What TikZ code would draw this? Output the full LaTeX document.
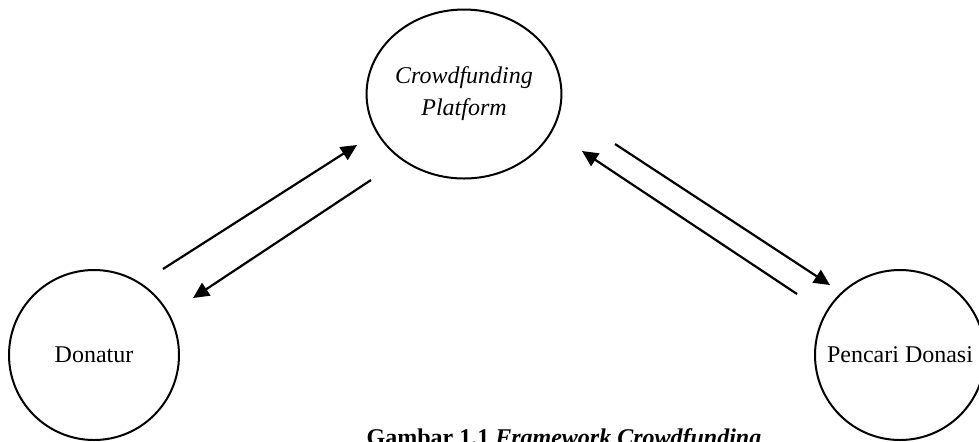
\documentclass[tikz,border=0pt]{standalone}
\usepackage{fontspec}
\setmainfont{Liberation Serif}
\usetikzlibrary{arrows.meta,shapes.geometric}

\begin{document}
\begin{tikzpicture}[
    x=0.5pt, y=-0.5pt,
    >={Triangle[length=8pt,width=7.5pt]},
    party/.style={
      draw,
      circle,
      line width=1pt,
      minimum size=85pt,
      inner sep=0pt,
      font=\fontsize{12}{14}\selectfont
    },
    hub/.style={
      draw,
      ellipse,
      line width=1pt,
      minimum width=94pt,
      minimum height=84.5pt,
      inner sep=0pt,
      align=center,
      font=\fontsize{12}{16}\selectfont\itshape
    },
    every edge/.style={draw,->,line width=1.1pt}
  ]
  \useasboundingbox (0,0) rectangle (979,441);
  \node[hub] (platform) at (464,94) {Crowdfunding\\Platform};
  \node[party] (donatur) at (94,355) {Donatur};
  \node[party] (pencari) at (900,355) {Pencari Donasi};
  % free ends of the arrows
  \coordinate (donOut) at (163,269);
  \coordinate (platIn1) at (357,145);
  \coordinate (platOut1) at (371,180);
  \coordinate (donIn) at (193,298);
  \coordinate (platOut2) at (615,144);
  \coordinate (penIn) at (830,285);
  \coordinate (penOut) at (797,294);
  \coordinate (platIn2) at (582,151);
  \path (donOut) edge (platIn1)
        (platOut1) edge (donIn);
  \path (platOut2) edge (penIn)
        (penOut) edge (platIn2);
  \node[anchor=base,font=\fontsize{12}{14}\selectfont\bfseries] (caption) at (564,445)
    {Gambar 1.1 \textit{Framework Crowdfunding}};
\end{tikzpicture}
\end{document}
